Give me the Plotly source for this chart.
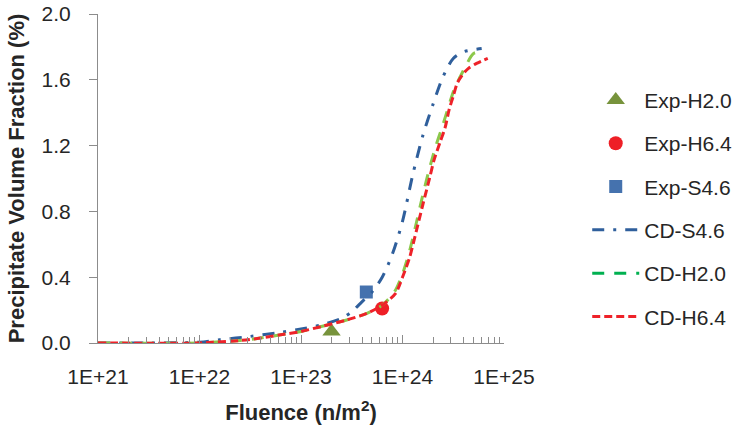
import plotly.graph_objects as go

# Experimental points: fluence (n/m^2) and precipitate volume fraction (%)
exp_h20_x = [2.0e23]
exp_h20_y = [0.07]
exp_h64_x = [6.3e23]
exp_h64_y = [0.21]
exp_s46_x = [4.4e23]
exp_s46_y = [0.31]

# Cluster-dynamics predictions, log10(fluence) and volume fraction (%)
cd_s46_logx = [21.0, 21.5, 22.0, 22.2, 22.5, 22.8, 23.0, 23.2, 23.4, 23.5, 23.6,
               23.7, 23.8, 23.9, 24.0, 24.1, 24.2, 24.3, 24.4, 24.5, 24.6, 24.78]
cd_s46_y = [0.0, 0.0, 0.005, 0.02, 0.04, 0.065, 0.085, 0.11, 0.15, 0.19, 0.25,
            0.31, 0.40, 0.54, 0.74, 1.02, 1.26, 1.45, 1.62, 1.73, 1.77, 1.79]

cd_h20_logx = [21.0, 22.0, 22.13, 22.4, 22.6, 22.8, 23.0, 23.2, 23.45, 23.65, 23.8,
               23.92, 24.0, 24.07, 24.14, 24.2, 24.27, 24.33, 24.4, 24.47, 24.52,
               24.57, 24.62, 24.70, 24.79]
cd_h20_y = [0.0, 0.0, 0.005, 0.015, 0.03, 0.05, 0.07, 0.10, 0.14, 0.18, 0.23,
            0.31, 0.42, 0.56, 0.74, 0.90, 1.07, 1.20, 1.33, 1.47, 1.56,
            1.62, 1.68, 1.76, 1.77]

cd_h64_logx = [21.0, 22.0, 22.13, 22.4, 22.6, 22.8, 23.0, 23.2, 23.45, 23.65, 23.8,
               23.93, 24.0, 24.07, 24.14, 24.2, 24.27, 24.31, 24.37, 24.42, 24.46,
               24.5, 24.54, 24.59, 24.65, 24.73, 24.84]
cd_h64_y = [0.0, 0.0, 0.005, 0.015, 0.03, 0.05, 0.07, 0.10, 0.14, 0.18, 0.23,
            0.30, 0.40, 0.52, 0.69, 0.84, 1.01, 1.11, 1.22, 1.31, 1.42,
            1.50, 1.58, 1.63, 1.67, 1.70, 1.73]

x_tick_vals = [1e21, 1e22, 1e23, 1e24, 1e25]
x_tick_text = ["1E+21", "1E+22", "1E+23", "1E+24", "1E+25"]
y_tick_vals = [0.0, 0.4, 0.8, 1.2, 1.6, 2.0]

FONT = "Liberation Sans, Arial, sans-serif"
AXIS_GREY = "#8c8c8c"
TEXT = "#262626"


def pow10(vals):
    return [10 ** v for v in vals]


fig = go.Figure()

fig.add_trace(go.Scatter(
    x=exp_h20_x, y=exp_h20_y, mode="markers", name="Exp-H2.0",
    legendgroup="a", legendrank=1,
    marker=dict(symbol="triangle-up", size=16, color="#77933c")))
fig.add_trace(go.Scatter(
    x=exp_h64_x, y=exp_h64_y, mode="markers", name="Exp-H6.4",
    legendgroup="b", legendrank=2,
    marker=dict(symbol="circle", size=14, color="#ee1f26")))
fig.add_trace(go.Scatter(
    x=exp_s46_x, y=exp_s46_y, mode="markers", name="Exp-S4.6",
    legendgroup="c", legendrank=3,
    marker=dict(symbol="square", size=13, color="#4572ae")))

fig.add_trace(go.Scatter(
    x=pow10(cd_s46_logx), y=cd_s46_y, mode="lines", name="CD-S4.6",
    legendgroup="d", legendrank=4,
    line=dict(color="#2f5f9c", width=3, dash="12px,9px,3px,9px",
              shape="spline", smoothing=0.8)))
# plotted H2.0 curve (light green); its legend key uses the brighter green below
fig.add_trace(go.Scatter(
    x=pow10(cd_h20_logx), y=cd_h20_y, mode="lines", name="CD-H2.0",
    showlegend=False,
    line=dict(color="#8cc84b", width=3, dash="12px,10px",
              shape="spline", smoothing=0.8)))
fig.add_trace(go.Scatter(
    x=[None], y=[None], mode="lines", name="CD-H2.0",
    legendgroup="e", legendrank=5,
    line=dict(color="#00b050", width=3, dash="12px,10px")))
fig.add_trace(go.Scatter(
    x=pow10(cd_h64_logx), y=cd_h64_y, mode="lines", name="CD-H6.4",
    legendgroup="f", legendrank=6,
    line=dict(color="#ee2229", width=3, dash="8px,4px",
              shape="spline", smoothing=0.8)))

fig.update_layout(
    width=737, height=429,
    margin=dict(l=98, r=233, t=14, b=86, autoexpand=False),
    paper_bgcolor="white", plot_bgcolor="white",
    font=dict(family=FONT, size=21, color=TEXT),
    showlegend=True,
    legend=dict(x=1.205, xanchor="left", xref="paper", y=0.80, yanchor="top",
                font=dict(family=FONT, size=21, color=TEXT),
                tracegroupgap=13, itemwidth=47,
                bgcolor="rgba(0,0,0,0)"),
)

fig.update_xaxes(
    type="log", range=[21, 25], automargin=False,
    tickvals=x_tick_vals, ticktext=x_tick_text,
    ticks="inside", ticklen=8, tickcolor=AXIS_GREY, tickwidth=1,
    minor=dict(ticks="inside", ticklen=6, tickcolor=AXIS_GREY, dtick="D1", showgrid=False),
    showline=True, linecolor=AXIS_GREY, linewidth=1,
    showgrid=False, zeroline=False,
    ticklabelstandoff=15,
    title=dict(text="<b>Fluence (n/m<sup>2</sup>)</b>", standoff=17,
               font=dict(family=FONT, size=22, color=TEXT)),
)
fig.update_yaxes(
    range=[0, 2.0], tickvals=y_tick_vals, tickformat=".1f", automargin=False,
    ticks="outside", ticklen=8, tickcolor=AXIS_GREY, tickwidth=1,
    showline=True, linecolor=AXIS_GREY, linewidth=1,
    showgrid=False, zeroline=False,
    ticklabelstandoff=14,
    title=dict(text="<b>Precipitate Volume Fraction (%)</b>", standoff=10,
               font=dict(family=FONT, size=22, color=TEXT)),
)

fig.write_html("out.html")
